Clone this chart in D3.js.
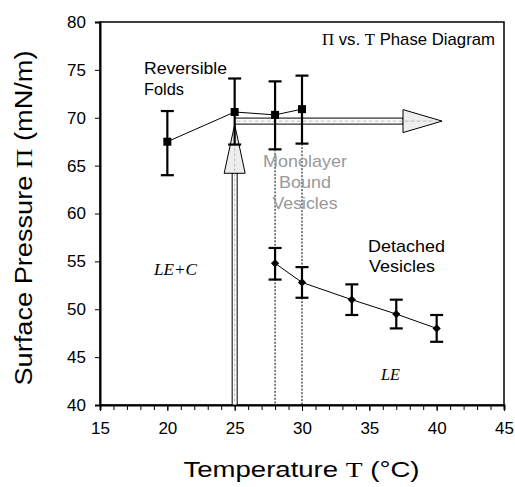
<!DOCTYPE html>
<html>
<head>
<meta charset="utf-8">
<script src="https://cdn.jsdelivr.net/npm/d3@7"></script>
<style>
  body { margin: 0; background: #fff; }
  svg text { font-family: "Liberation Sans", Arial, sans-serif; }
  .serif { font-family: "Liberation Serif", "Times New Roman", serif; }
</style>
</head>
<body>
<div id="chart"></div>
<script>
// reversible folds (squares)
const foldT = [20, 25, 28, 30];
const foldP = [67.5, 70.6, 70.3, 70.9];
const foldHi = [70.7, 74.1, 73.8, 74.4];
const foldLo = [64.0, 67.2, 66.7, 67.3];

// detached vesicles (diamonds)
const vesT = [28, 30, 33.7, 37, 40];
const vesP = [54.8, 52.8, 51.0, 49.5, 48.0];
const vesHi = [56.4, 54.4, 52.6, 51.0, 49.4];
const vesLo = [53.1, 51.2, 49.4, 48.0, 46.6];

const xTicks = [15, 20, 25, 30, 35, 40, 45];
const yTicks = [40, 45, 50, 55, 60, 65, 70, 75, 80];

const width = 515, height = 487;
const margin = { left: 100, right: 11, top: 22, bottom: 82 };

const svg = d3.select("#chart").append("svg")
    .attr("width", width)
    .attr("height", height);

const x = d3.scaleLinear().domain([15, 45]).range([margin.left, width - margin.right]);
const y = d3.scaleLinear().domain([40, 80]).range([height - margin.bottom, margin.top]);

// frame
svg.append("rect")
    .attr("x", x(15)).attr("y", y(80))
    .attr("width", x(45) - x(15)).attr("height", y(40) - y(80))
    .attr("fill", "none").attr("stroke", "#000").attr("stroke-width", 1.5);

// x axis with minor ticks
const xAxis = svg.append("g")
    .attr("transform", `translate(0,${y(40)})`)
    .call(d3.axisBottom(x).tickValues(d3.range(15, 46, 1)).tickSize(5).tickFormat(""));
xAxis.select(".domain").attr("stroke-width", 2);
const xLab = svg.append("g")
    .attr("transform", `translate(0,${y(40)})`)
    .call(d3.axisBottom(x).tickValues(xTicks).tickSize(6).tickPadding(11))
    .call(g => g.select(".domain").remove());
xLab.selectAll("text").attr("font-size", 17).attr("fill", "#000")
    .style("font-family", "Liberation Sans, Arial, sans-serif");

const yAxis = svg.append("g")
    .attr("transform", `translate(${x(15)},0)`)
    .call(d3.axisLeft(y).tickValues(yTicks).tickSize(5).tickPadding(9));
yAxis.select(".domain").attr("stroke-width", 2);
yAxis.selectAll("text").attr("font-size", 17).attr("fill", "#000")
    .style("font-family", "Liberation Sans, Arial, sans-serif");

// dotted verticals at 28 and 30
[[28, 66.7], [30, 67.3]].forEach(d => {
    svg.append("line")
        .attr("x1", x(d[0])).attr("x2", x(d[0]))
        .attr("y1", y(d[1])).attr("y2", y(40))
        .attr("stroke", "#000").attr("stroke-width", 1)
        .attr("stroke-dasharray", "2,1.5");
});

// vertical hollow arrow at T = 25
const ax = x(25), shaftW = 5;
const headBase = y(64.2), headTip = y(69.3), headHalf = 10.5;
svg.append("rect")
    .attr("x", ax - shaftW / 2).attr("y", headBase)
    .attr("width", shaftW).attr("height", y(40) - headBase)
    .attr("fill", "#fff").attr("stroke", "#000").attr("stroke-width", 1);
svg.append("path")
    .attr("d", `M${ax - headHalf},${headBase} L${ax},${headTip} L${ax + headHalf},${headBase} Z`)
    .attr("fill", "#eee").attr("stroke", "#000").attr("stroke-width", 1);
svg.append("line")
    .attr("x1", ax).attr("x2", ax).attr("y1", headTip + 4).attr("y2", y(40))
    .attr("stroke", "#bbb").attr("stroke-width", 1).attr("stroke-dasharray", "3,2");

// horizontal hollow arrow from T = 25
const hy = y(69.65), shaftH = 6;
const hBase = x(37.5), hTip = x(40.4), hHalf = 11.5;
svg.append("rect")
    .attr("x", ax).attr("y", hy - shaftH / 2)
    .attr("width", hBase - ax).attr("height", shaftH)
    .attr("fill", "#fff").attr("stroke", "#000").attr("stroke-width", 1);
svg.append("path")
    .attr("d", `M${hBase},${hy - hHalf} L${hTip},${hy} L${hBase},${hy + hHalf} Z`)
    .attr("fill", "#eee").attr("stroke", "#000").attr("stroke-width", 1);
svg.append("line")
    .attr("x1", ax + 2).attr("x2", hTip - 6).attr("y1", hy).attr("y2", hy)
    .attr("stroke", "#bbb").attr("stroke-width", 1).attr("stroke-dasharray", "4,2");

// series drawing
function drawSeries(ts, ps, hi, lo, symbol, size, rot) {
    const pts = ts.map((t, i) => ({ t, p: ps[i], hi: hi[i], lo: lo[i] }));
    svg.append("path")
        .datum(pts)
        .attr("fill", "none").attr("stroke", "#000").attr("stroke-width", 1)
        .attr("d", d3.line().x(d => x(d.t)).y(d => y(d.p)));
    const g = svg.append("g").selectAll("g").data(pts).join("g");
    g.append("line")
        .attr("x1", d => x(d.t)).attr("x2", d => x(d.t))
        .attr("y1", d => y(d.hi)).attr("y2", d => y(d.lo))
        .attr("stroke", "#000").attr("stroke-width", 2.2);
    [d => d.hi, d => d.lo].forEach(f => {
        g.append("line")
            .attr("x1", d => x(d.t) - 6.5).attr("x2", d => x(d.t) + 6.5)
            .attr("y1", d => y(f(d))).attr("y2", d => y(f(d)))
            .attr("stroke", "#000").attr("stroke-width", 2.2);
    });
    g.append("path")
        .attr("transform", d => `translate(${x(d.t)},${y(d.p)}) rotate(${rot})`)
        .attr("d", d3.symbol().type(symbol).size(size))
        .attr("fill", "#000");
}

drawSeries(foldT, foldP, foldHi, foldLo, d3.symbolSquare, 64, 0);
drawSeries(vesT, vesP, vesHi, vesLo, d3.symbolSquare, 34, 45);

// labels (source text is a bit stretched, so fit each to its measured width)
function label(txt, px, py, len, opts = {}) {
    const t = svg.append("text")
        .attr("x", px).attr("y", py)
        .attr("font-size", opts.size || 17)
        .attr("fill", opts.fill || "#000")
        .attr("text-anchor", opts.anchor || "start")
        .attr("textLength", len)
        .attr("lengthAdjust", "spacingAndGlyphs")
        .text(txt);
    if (opts.serif) t.attr("class", "serif").attr("font-style", "italic");
    return t;
}
label("Reversible", 144, 74, 83);
label("Folds", 144, 95, 40);
label("Monolayer", 305, 167, 84, { fill: "#999", anchor: "middle" });
label("Bound", 305, 188, 52, { fill: "#999", anchor: "middle" });
label("Vesicles", 305, 209, 65, { fill: "#999", anchor: "middle" });
label("Detached", 368, 252, 77);
label("Vesicles", 369, 272, 66);
label("LE+C", 154, 275, 43, { serif: true, size: 16 });
label("LE", 381, 380, 19, { serif: true, size: 16 });

// title
const title = svg.append("text")
    .attr("x", 495).attr("y", 45)
    .attr("text-anchor", "end")
    .attr("font-size", 17)
    .attr("textLength", 173)
    .attr("lengthAdjust", "spacingAndGlyphs");
title.append("tspan").attr("class", "serif").text("Π");
title.append("tspan").text(" vs. ");
title.append("tspan").attr("class", "serif").text("T");
title.append("tspan").text(" Phase Diagram");

// axis titles
const xl = svg.append("text")
    .attr("x", 301.5).attr("y", 477)
    .attr("text-anchor", "middle")
    .attr("font-size", 22)
    .attr("textLength", 236)
    .attr("lengthAdjust", "spacingAndGlyphs");
xl.append("tspan").text("Temperature ");
xl.append("tspan").attr("class", "serif").text("T");
xl.append("tspan").text(" (°C)");

const yl = svg.append("text")
    .attr("transform", `translate(32,218) rotate(-90)`)
    .attr("text-anchor", "middle")
    .attr("font-size", 23)
    .attr("textLength", 335)
    .attr("lengthAdjust", "spacingAndGlyphs");
yl.append("tspan").text("Surface Pressure ");
yl.append("tspan").attr("class", "serif").text("Π");
yl.append("tspan").text(" (mN/m)");
</script>
</body>
</html>
